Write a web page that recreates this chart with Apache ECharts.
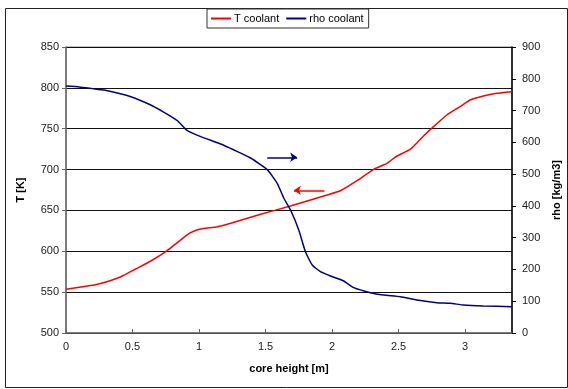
<!DOCTYPE html>
<html>
<head>
<meta charset="utf-8">
<script src="https://cdn.jsdelivr.net/npm/echarts@6/dist/echarts.min.js"></script>
<style>
  html, body { margin: 0; padding: 0; background: #fff; }
  #chart { width: 568px; height: 389px; }
</style>
</head>
<body>
<div id="chart"></div>
<script>
// coolant temperature along core height
const heightT = [0, 0.1, 0.212, 0.3, 0.413, 0.52, 0.638, 0.75, 0.84, 0.913, 0.96, 1.013, 1.138, 1.238, 1.463, 1.688, 1.963, 2.063, 2.188, 2.313, 2.413, 2.488, 2.588, 2.688, 2.763, 2.863, 2.963, 3.038, 3.138, 3.239, 3.351];
const tempT = [553.5, 556, 558.7, 562.5, 568.9, 578, 588.1, 599.5, 611, 620.5, 624.5, 627.3, 630.1, 634.3, 645.3, 655.4, 668.9, 674.1, 686.4, 700.3, 707.7, 716.6, 724.6, 741.1, 752.5, 766.8, 777, 785.1, 790, 793.3, 795.3];

// coolant density along core height
const heightRho = [0, 0.1, 0.2, 0.287, 0.488, 0.625, 0.737, 0.838, 0.913, 1.013, 1.163, 1.263, 1.388, 1.513, 1.588, 1.638, 1.688, 1.75, 1.8, 1.851, 1.913, 1.988, 2.088, 2.163, 2.288, 2.388, 2.513, 2.638, 2.788, 2.888, 2.988, 3.138, 3.351];
const rhoVals = [777, 774, 769, 764.7, 743.6, 719.7, 694.5, 668, 636.6, 617.8, 594.8, 575.9, 550.7, 514, 471, 424, 387, 324, 255.9, 214, 193, 179.4, 163.6, 142.6, 126.8, 119.6, 114.2, 103.9, 95.4, 93.5, 88, 85, 82.8];

// annotation arrows: [x from, x to, y]
const arrowRho = [1.513, 1.738, 553];
const arrowT = [1.943, 1.713, 674.6];

const chart = echarts.init(document.getElementById("chart"), null, { renderer: "canvas" });

const font = "Liberation Sans, Arial, sans-serif";

const option = {
  animation: false,
  textStyle: { fontFamily: font },
  graphic: [
    {
      type: "rect",
      shape: { x: 5.5, y: 8.5, width: 562, height: 379 },
      style: { fill: "none", stroke: "#222", lineWidth: 1 },
      silent: true,
    },
  ],
  legend: {
    left: 207,
    top: 9,
    padding: [4, 5, 4, 4],
    itemGap: 7,
    itemWidth: 20,
    itemHeight: 2,
    icon: "rect",
    borderColor: "#333",
    borderWidth: 1,
    textStyle: { fontFamily: font, fontSize: 11, color: "#000", padding: [0, 0, 0, -2] },
    data: ["T coolant", "rho coolant"],
  },
  grid: {
    left: 66,
    right: 56,
    top: 47,
    bottom: 56,
    outerBoundsMode: "none",
    containLabel: false,
    show: true,
    borderColor: "#888",
    borderWidth: 1,
  },
  xAxis: {
    type: "value",
    min: 0,
    max: 3.353,
    interval: 0.5,
    name: "core height [m]",
    nameLocation: "middle",
    nameGap: 30,
    nameTextStyle: { fontFamily: font, fontSize: 11, fontWeight: "bold", color: "#000" },
    axisLine: { onZero: false, lineStyle: { color: "#666", width: 1.5 } },
    axisTick: { inside: true, length: 4, lineStyle: { color: "#666" } },
    axisLabel: { fontFamily: font, fontSize: 11, color: "#222", margin: 8, showMaxLabel: false },
    splitLine: { show: false },
  },
  yAxis: [
    {
      type: "value",
      min: 500,
      max: 850,
      interval: 50,
      name: "T [K]",
      nameLocation: "middle",
      nameGap: 40,
      nameRotate: 90,
      nameTextStyle: { fontFamily: font, fontSize: 11, fontWeight: "bold", color: "#000" },
      axisLine: { show: true, lineStyle: { color: "#666", width: 1.5 } },
      axisTick: { show: true, length: 4, lineStyle: { color: "#666" } },
      axisLabel: { fontFamily: font, fontSize: 11, color: "#222", margin: 7 },
      splitLine: { show: true, lineStyle: { color: "#111", width: 1 } },
    },
    {
      type: "value",
      position: "right",
      min: 0,
      max: 900,
      interval: 100,
      name: "rho [kg/m3]",
      nameLocation: "middle",
      nameGap: 38,
      nameRotate: 90,
      nameTextStyle: { fontFamily: font, fontSize: 11, fontWeight: "bold", color: "#000" },
      axisLine: { show: true, lineStyle: { color: "#000", width: 1.5 } },
      axisTick: { show: true, length: 4, lineStyle: { color: "#000" } },
      axisLabel: { fontFamily: font, fontSize: 11, color: "#222", margin: 10 },
      splitLine: { show: false },
    },
  ],
  series: [
    {
      name: "T coolant",
      type: "line",
      yAxisIndex: 0,
      showSymbol: false,
      smooth: 0.15,
      color: "#ff0000",
      lineStyle: { color: "#ff0000", width: 1.5 },
      data: heightT.map((x, i) => [x, tempT[i]]),
      markLine: {
        silent: true,
        symbol: ["none", "arrow"],
        symbolSize: 7,
        label: { show: false },
        lineStyle: { color: "#ff0000", width: 1.5, type: "solid" },
        data: [[{ coord: [arrowT[0], arrowT[2]] }, { coord: [arrowT[1], arrowT[2]] }]],
      },
    },
    {
      name: "rho coolant",
      type: "line",
      yAxisIndex: 1,
      showSymbol: false,
      smooth: 0.15,
      color: "#000080",
      lineStyle: { color: "#000080", width: 1.5 },
      data: heightRho.map((x, i) => [x, rhoVals[i]]),
      markLine: {
        silent: true,
        symbol: ["none", "arrow"],
        symbolSize: 7,
        label: { show: false },
        lineStyle: { color: "#000080", width: 1.5, type: "solid" },
        data: [[{ coord: [arrowRho[0], arrowRho[2]] }, { coord: [arrowRho[1], arrowRho[2]] }]],
      },
    },
  ],
};

chart.setOption(option);
</script>
</body>
</html>
